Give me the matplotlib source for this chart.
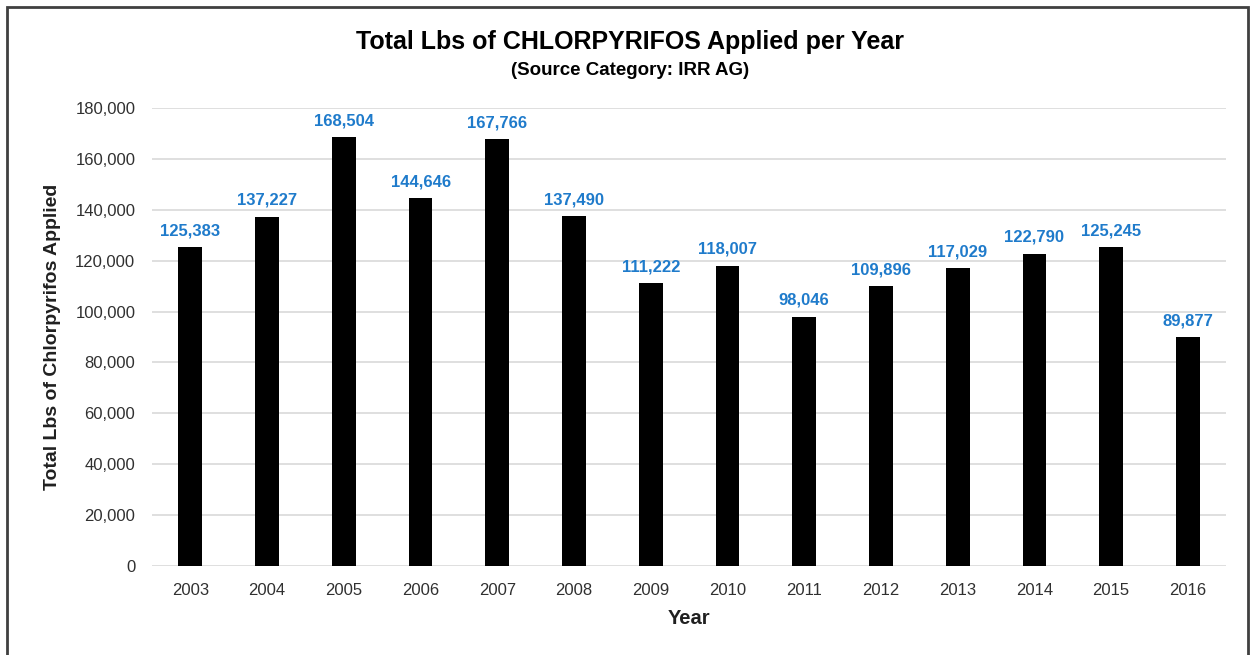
import matplotlib
matplotlib.use("Agg")
import matplotlib.pyplot as plt
from matplotlib.patches import Rectangle
from matplotlib.ticker import FuncFormatter

years = ["2003", "2004", "2005", "2006", "2007", "2008", "2009", "2010",
         "2011", "2012", "2013", "2014", "2015", "2016"]
values = [125383, 137227, 168504, 144646, 167766, 137490, 111222, 118007,
          98046, 109896, 117029, 122790, 125245, 89877]
yticks = [0, 20000, 40000, 60000, 80000, 100000, 120000, 140000, 160000, 180000]

plt.rcParams['font.family'] = ['Liberation Sans', 'DejaVu Sans']

fig = plt.figure(figsize=(12.5, 6.55), dpi=100)
ax = fig.add_axes([0.1216, 0.1359, 0.981 - 0.1216, 0.8351 - 0.1359])

x = list(range(len(years)))
ax.bar(x, values, width=0.31, color='black', zorder=3)
for xi, v in zip(x, values):
    ax.text(xi, v + 3500, f"{v:,}", ha='center', va='bottom', color='#1F7BCB',
            fontsize=12, fontweight='bold', zorder=4)

ax.set_xlim(-0.5, len(years) - 0.5)
ax.set_ylim(0, 180000)
ax.set_yticks(yticks)
ax.yaxis.set_major_formatter(FuncFormatter(lambda v, p: f"{int(v):,}"))
ax.set_xticks(x)
ax.set_xticklabels(years)
ax.grid(axis='y', color='#d9d9d9', linewidth=1.2, zorder=0)
for s in ax.spines.values():
    s.set_visible(False)
ax.tick_params(axis='both', length=0, labelsize=12, colors='#303030', pad=12)
ax.tick_params(axis='x', pad=12)

ax.set_ylabel("Total Lbs of Chlorpyrifos Applied", fontsize=14, fontweight='bold',
              color='#202020', labelpad=10)
ax.set_xlabel("Year", fontsize=14.5, fontweight='bold', color='#202020', labelpad=8)

fig.text(0.504, 0.936, "Total Lbs of CHLORPYRIFOS Applied per Year", ha='center',
         va='center', fontsize=18, fontweight='bold', color='black')
fig.text(0.504, 0.893, "(Source Category: IRR AG)", ha='center', va='center',
         fontsize=13.5, fontweight='bold', color='black')

fig.patches.append(Rectangle((7 / 1250, -0.05), (1248 - 7) / 1250, 1.05 - 7 / 655,
                             transform=fig.transFigure, fill=False,
                             edgecolor='#404040', linewidth=2))

fig.savefig("out.png", dpi=100)
